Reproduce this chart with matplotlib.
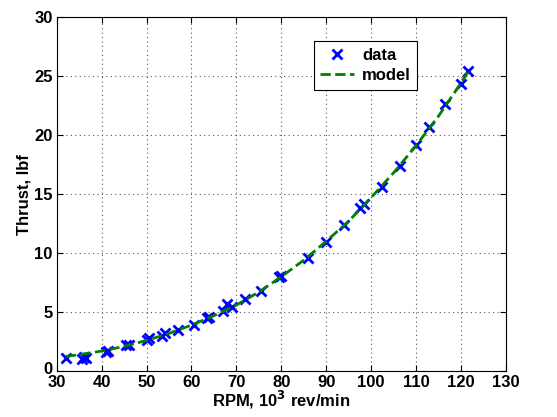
import matplotlib
matplotlib.use('Agg')
import matplotlib.pyplot as plt
import matplotlib.transforms as mtransforms

# measured data, RPM in 10^3 rev/min, thrust in lbf
rpm = [32, 35.5, 36, 36.5, 41, 41.5, 45.5, 46, 50, 50.5, 53.5, 54, 57, 60.5, 63.5, 64,
	67, 68, 69, 72, 75.5, 79.5, 80, 86, 90, 94, 97.5, 98.5, 102.5, 106.5, 110, 113,
	116.5, 120, 121.5]
thrust = [1.1, 1.0, 1.2, 1.1, 1.6, 1.7, 2.2, 2.2, 2.6, 2.8, 3.0, 3.2, 3.5, 3.9, 4.5, 4.6,
	5.1, 5.7, 5.4, 6.1, 6.8, 8.0, 8.1, 9.6, 10.9, 12.4, 13.8, 14.2, 15.6, 17.4, 19.2, 20.7,
	22.6, 24.3, 25.4]

# model curve
model_rpm = [32, 35, 40, 45, 50, 55, 60, 65, 70, 75, 80, 85, 90, 95, 100, 105, 110, 115, 120, 122]
model_thrust = [1.25, 1.4, 1.7, 2.1, 2.6, 3.2, 3.9, 4.7, 5.6, 6.7, 8.0, 9.4, 11.0, 12.7, 14.7,
	16.8, 19.1, 21.6, 24.4, 25.6]

plt.rcParams['font.family'] = 'Liberation Sans'
plt.rcParams['font.weight'] = 'bold'
plt.rcParams['font.size'] = 12

fig = plt.figure(figsize=(5.57, 4.17), dpi=100)
ax = fig.add_axes([0.102, 0.110, 0.806, 0.849])
ax.plot(rpm, thrust, 'x', color='#0000ff', markersize=7.5, mew=2, label='data', zorder=3)
ax.plot(model_rpm, model_thrust, '--', color='#008000', lw=2, label='model', zorder=4)

ax.set_xlim(30, 130)
ax.set_ylim(0, 30)
ax.set_xticks(range(30, 131, 10))
ax.set_yticks(range(0, 31, 5))
ax.grid(True, linestyle=(0, (1, 3)), color='0.35', linewidth=0.8)
ax.tick_params(direction='in', top=True, right=True, length=4, pad=3)
for lbl in ax.get_xticklabels() + ax.get_yticklabels():
	lbl.set_fontweight('bold')
# nudge the bottom y label up a bit so it clears the "30" under it
zero = ax.get_yticklabels()[0]
zero.set_transform(zero.get_transform() + mtransforms.ScaledTranslation(0, 3/100, fig.dpi_scale_trans))
ax.set_xlabel('RPM, 10$^\\mathbf{3}$ rev/min', fontweight='bold', labelpad=-1)
ax.set_ylabel('Thrust, lbf', fontweight='bold', labelpad=2)

leg = ax.legend(loc='upper left', bbox_to_anchor=(0.572, 0.932), borderaxespad=0, frameon=True,
	fancybox=False, edgecolor='black', framealpha=1, handlelength=2.0, handletextpad=0.5,
	borderpad=0.4, labelspacing=0.3)
leg.get_frame().set_linewidth(0.8)

plt.savefig('out.png', dpi=100)
